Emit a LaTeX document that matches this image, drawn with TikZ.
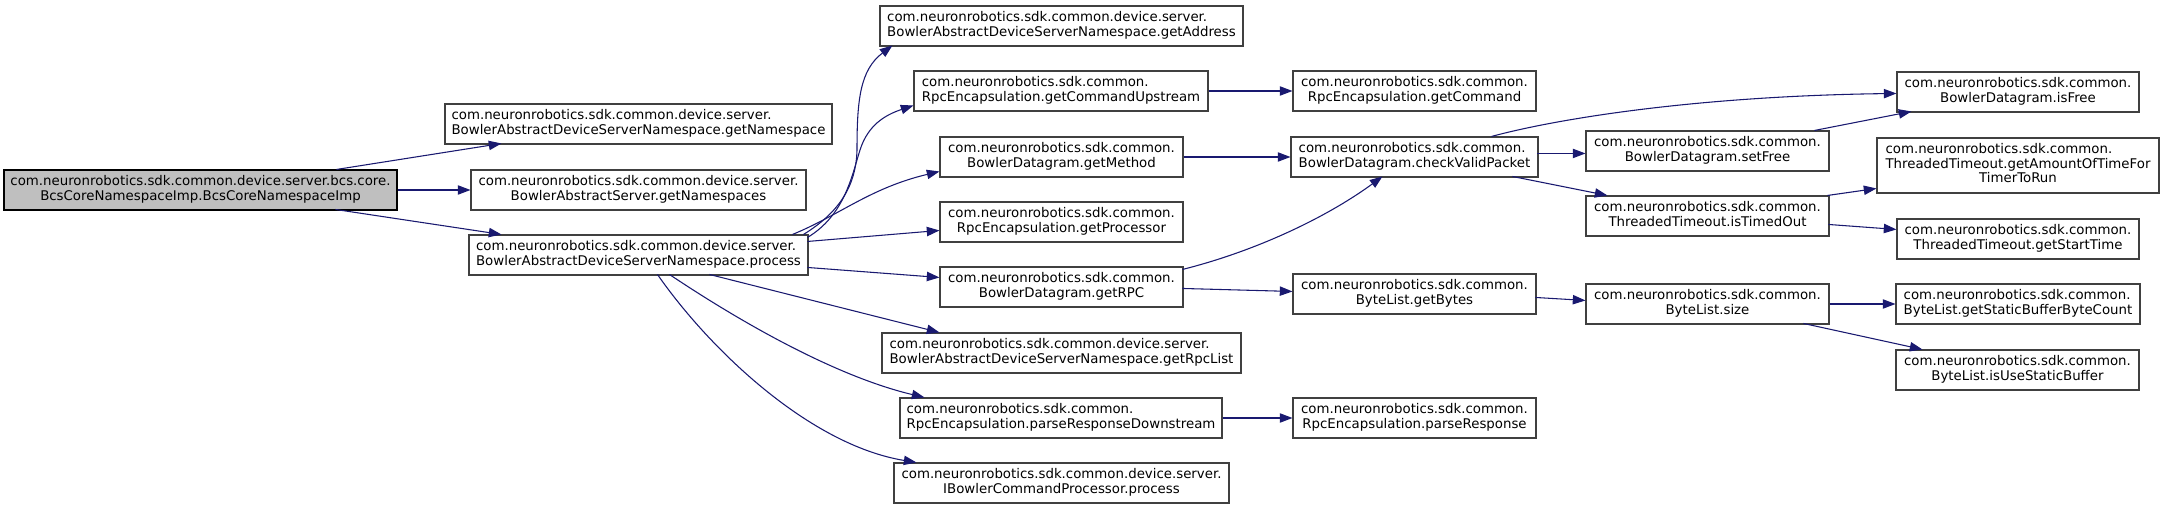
\documentclass[tikz,border=0pt]{standalone}
\usepackage{fontspec}
\setmainfont{DejaVu Sans}
\usetikzlibrary{arrows.meta,calc}
\definecolor{edgeblue}{RGB}{25,25,112}
\definecolor{boxline}{RGB}{64,64,64}
\definecolor{rootfill}{RGB}{191,191,191}
\newcommand\twoline[2]{\begin{tabular}{@{}l@{}}#1\\\multicolumn{1}{@{}c@{}}{#2}\end{tabular}}
\newcommand\threeline[3]{\begin{tabular}{@{}l@{}}#1\\#2\\\multicolumn{1}{@{}c@{}}{#3}\end{tabular}}
\newcommand\mkbox[7][]{%
  \node[fnbox,#1,minimum width={(#5-#3)*0.75pt},minimum height={(#6-#4)*0.75pt}] (#2) at ({(#3+#5)/2},{(#4+#6)/2}) {#7};}
\tikzset{
  fnbox/.style={rectangle,draw=boxline,fill=white,line width=0.8pt,inner sep=0pt,
    font=\fontsize{10}{10.8}\selectfont},
  rootbox/.style={fill=rootfill,draw=black},
  callarrow/.style={draw=edgeblue,line width=0.8pt,-{Triangle[length=9.5pt,width=7pt]}}
}
\begin{document}
\begin{tikzpicture}[x=0.75pt,y=-0.75pt]
\useasboundingbox (0,0) rectangle (2164,509);
\fill[white] (0,0) rectangle (2164,509);
\def\cns{com.neuronrobotics.sdk.common.}
\def\cds{com.neuronrobotics.sdk.common.device.server.}
\mkbox[rootbox]{root}{4}{170}{397}{210}{\twoline{com.neuronrobotics.sdk.common.device.server.bcs.core.}{BcsCoreNamespaceImp.BcsCoreNamespaceImp}}
\mkbox{gns}{445}{104}{832}{144}{\twoline{\cds}{BowlerAbstractDeviceServerNamespace.getNamespace}}
\mkbox{gnss}{471}{170}{806}{210}{\twoline{\cds}{BowlerAbstractServer.getNamespaces}}
\mkbox{proc}{469}{235}{808}{275}{\twoline{\cds}{BowlerAbstractDeviceServerNamespace.process}}
\mkbox{gaddr}{880}{6}{1243}{46}{\twoline{\cds}{BowlerAbstractDeviceServerNamespace.getAddress}}
\mkbox{gcu}{914}{71}{1208}{111}{\twoline{\cns}{RpcEncapsulation.getCommandUpstream}}
\mkbox{gmeth}{940}{137}{1183}{177}{\twoline{\cns}{BowlerDatagram.getMethod}}
\mkbox{gproc}{940}{202}{1183}{242}{\twoline{\cns}{RpcEncapsulation.getProcessor}}
\mkbox{grpc}{940}{267}{1183}{307}{\twoline{\cns}{BowlerDatagram.getRPC}}
\mkbox{grpcl}{882}{333}{1241}{373}{\twoline{\cds}{BowlerAbstractDeviceServerNamespace.getRpcList}}
\mkbox{prd}{900}{398}{1222}{438}{\twoline{\cns}{RpcEncapsulation.parseResponseDownstream}}
\mkbox{ibcp}{894}{463}{1229}{503}{\twoline{\cds}{IBowlerCommandProcessor.process}}
\mkbox{gcmd}{1293}{71}{1536}{111}{\twoline{\cns}{RpcEncapsulation.getCommand}}
\mkbox{cvp}{1291}{137}{1538}{177}{\twoline{\cns}{BowlerDatagram.checkValidPacket}}
\mkbox{gbytes}{1293}{274}{1536}{314}{\twoline{\cns}{ByteList.getBytes}}
\mkbox{presp}{1293}{398}{1536}{438}{\twoline{\cns}{RpcEncapsulation.parseResponse}}
\mkbox{setfree}{1586}{131}{1829}{171}{\twoline{\cns}{BowlerDatagram.setFree}}
\mkbox{ito}{1586}{196}{1829}{236}{\twoline{\cns}{ThreadedTimeout.isTimedOut}}
\mkbox{bsize}{1586}{284}{1829}{324}{\twoline{\cns}{ByteList.size}}
\mkbox{isfree}{1897}{72}{2139}{112}{\twoline{\cns}{BowlerDatagram.isFree}}
\mkbox{gamt}{1877}{138}{2159}{193}{\threeline{\cns}{ThreadedTimeout.getAmountOfTimeFor}{TimerToRun}}
\mkbox{gst}{1897}{219}{2139}{259}{\twoline{\cns}{ThreadedTimeout.getStartTime}}
\mkbox{gsbbc}{1896}{284}{2140}{324}{\twoline{\cns}{ByteList.getStaticBufferByteCount}}
\mkbox{iusb}{1896}{350}{2139}{390}{\twoline{\cns}{ByteList.isUseStaticBuffer}}
% connectors
\draw[callarrow] ($(root.north west)+(333,0)$) -- ($(gns.north west)+(57,40)$);
\draw[callarrow] (root.east) -- (gnss.west);
\draw[callarrow] ($(root.north west)+(332,40)$) -- ($(proc.north west)+(33,0)$);
\draw[callarrow] ($(proc.north west)+(335,0)$) .. controls (835,215) and (856,190) .. (857,150) .. controls (857,100) and (860,70) .. ($(gaddr.north west)+(13,40)$);
\draw[callarrow] ($(proc.north west)+(339,3)$) .. controls (845,215) and (852,175) .. (860,150) .. controls (868,125) and (885,115) .. ($(gcu.north west)+(0,35)$);
\draw[callarrow] ($(proc.north west)+(324,0)$) .. controls (840,215) and (870,188) .. ($(gmeth.north west)+(0,35)$);
\draw[callarrow] ($(proc.north west)+(339,7)$) -- ($(gproc.north west)+(0,29)$);
\draw[callarrow] ($(proc.north west)+(339,33)$) -- ($(grpc.north west)+(0,11)$);
\draw[callarrow] ($(proc.north west)+(241,40)$) -- ($(grpcl.north west)+(58,0)$);
\draw[callarrow] ($(proc.north west)+(201,40)$) .. controls (730,315) and (830,375) .. ($(prd.north west)+(25,0)$);
\draw[callarrow] ($(proc.north west)+(189,40)$) .. controls (710,350) and (810,445) .. ($(ibcp.north west)+(23,0)$);
\draw[callarrow] (gcu.east) -- (gcmd.west);
\draw[callarrow] (gmeth.east) -- (cvp.west);
\draw[callarrow] ($(grpc.north west)+(243,3)$) .. controls (1260,250) and (1330,215) .. ($(cvp.north west)+(92,40)$);
\draw[callarrow] ($(grpc.north west)+(243,22)$) -- ($(gbytes.north west)+(0,18)$);
\draw[callarrow] ($(cvp.north west)+(201,0)$) .. controls (1560,118) and (1700,96) .. ($(isfree.north west)+(0,22)$);
\draw[callarrow] ($(cvp.north west)+(247,17)$) -- ($(setfree.north west)+(0,23)$);
\draw[callarrow] ($(cvp.north west)+(222,40)$) -- ($(ito.north west)+(22,0)$);
\draw[callarrow] ($(setfree.north west)+(229,0)$) -- ($(isfree.north west)+(15,40)$);
\draw[callarrow] ($(ito.north west)+(242,0)$) -- ($(gamt.north west)+(0,51)$);
\draw[callarrow] ($(ito.north west)+(243,29)$) -- ($(gst.north west)+(0,11)$);
\draw[callarrow] ($(gbytes.north west)+(243,24)$) -- ($(bsize.north west)+(0,17)$);
\draw[callarrow] (bsize.east) -- (gsbbc.west);
\draw[callarrow] ($(bsize.north west)+(218,40)$) -- ($(iusb.north west)+(27,0)$);
\draw[callarrow] (prd.east) -- (presp.west);
\end{tikzpicture}
\end{document}
